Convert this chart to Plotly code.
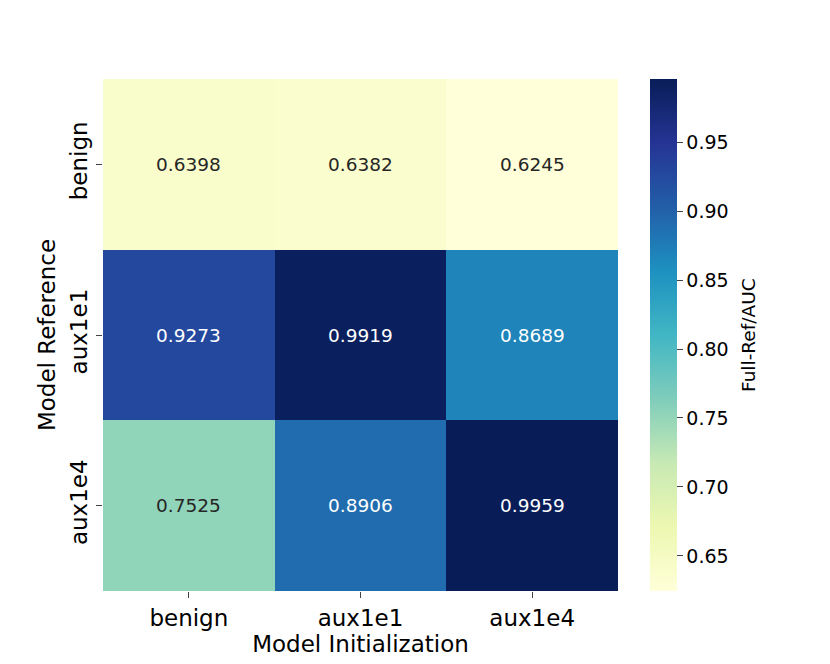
import plotly.graph_objects as go

# model initialization (columns) and model reference (rows)
init_labels = ['benign', 'aux1e1', 'aux1e4']
ref_labels = ['benign', 'aux1e1', 'aux1e4']

auc_benign = [0.6398, 0.6382, 0.6245]
auc_aux1e1 = [0.9273, 0.9919, 0.8689]
auc_aux1e4 = [0.7525, 0.8906, 0.9959]

cbar_ticks = [0.65, 0.70, 0.75, 0.80, 0.85, 0.90, 0.95]

z = [auc_benign, auc_aux1e1, auc_aux1e4]
zmin = min(min(r) for r in z)
zmax = max(max(r) for r in z)

fig = go.Figure()
fig.add_trace(go.Heatmap(
    z=z, x=init_labels, y=ref_labels,
    colorscale='YlGnBu', zmin=zmin, zmax=zmax,
    colorbar=dict(
        x=1.062, xanchor='left', xpad=0, y=0.5, yanchor='middle', ypad=0,
        len=1.0, thickness=27, outlinewidth=0,
        tickvals=cbar_ticks, ticktext=['%.2f' % t for t in cbar_ticks],
        ticks='outside', ticklen=6, tickfont=dict(size=19, color='#000'),
    ),
))

# colorbar label, placed by hand so it sits where matplotlib puts it
fig.add_annotation(
    xref='paper', yref='paper', x=1.2524, y=0.5, xanchor='center', yanchor='middle',
    text='Full-Ref/AUC', textangle=-90, showarrow=False,
    font=dict(size=18.5, color='#000'),
)

# cell labels, white on the dark cells like seaborn does
for i, row in enumerate(z):
    for j, v in enumerate(row):
        frac = (v - zmin) / (zmax - zmin)
        fig.add_annotation(
            x=init_labels[j], y=ref_labels[i], text='%.4f' % v, showarrow=False,
            font=dict(size=18.5, color='white' if frac > 0.45 else '#262626'),
        )

fig.update_layout(
    width=830, height=664,
    margin=dict(l=95, r=220, t=71, b=81),
    paper_bgcolor='white', plot_bgcolor='white',
    font=dict(family='DejaVu Sans', color='#000'),
    xaxis=dict(
        title=dict(text='Model Initialization', font=dict(size=23), standoff=6),
        tickfont=dict(size=23), ticks='outside', ticklen=6, showgrid=False, zeroline=False,
    ),
    yaxis=dict(
        title=dict(text='Model Reference', font=dict(size=23), standoff=3),
        tickfont=dict(size=23), tickangle=-90, ticks='outside', ticklen=6,
        autorange='reversed', showgrid=False, zeroline=False,
    ),
)

fig.write_html("out.html")
